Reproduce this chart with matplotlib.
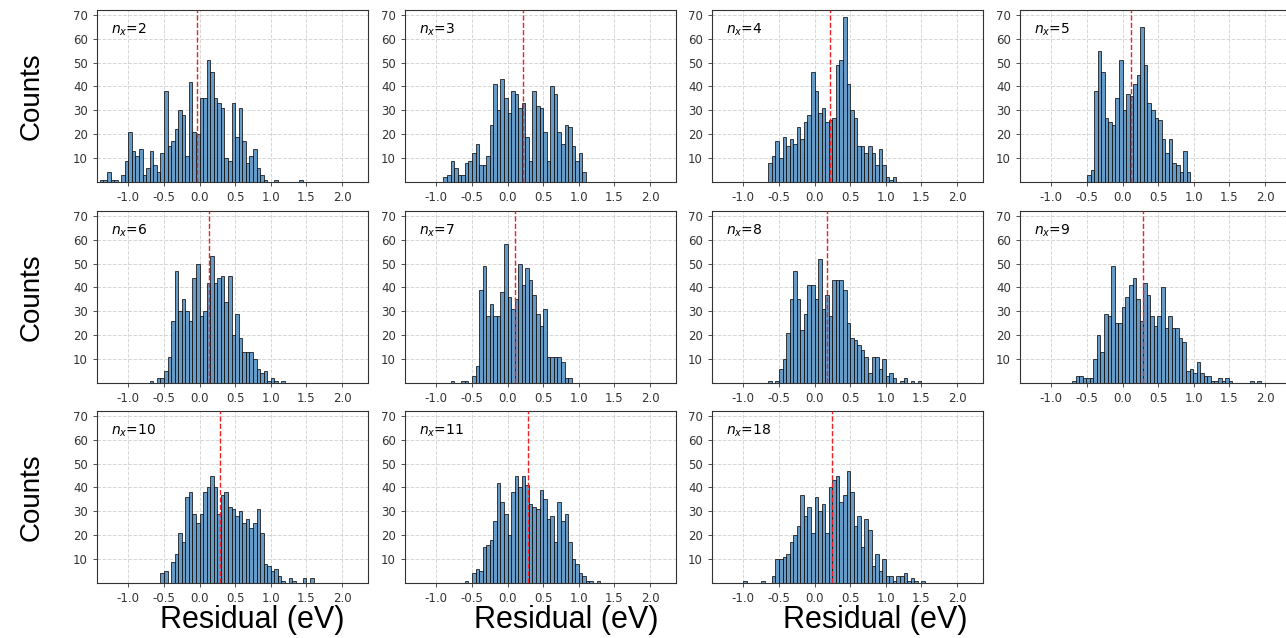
import matplotlib
matplotlib.use("Agg")
import matplotlib.pyplot as plt
import numpy as np

plt.rcParams["axes.unicode_minus"] = False

# histogram counts per panel (bin width 0.05 eV), first bin left edge, mean residual
nx_values = [2, 3, 4, 5, 6, 7, 8, 9, 10, 11, 18]
bin_width = 0.05
bin_start = [-1.40, -0.90, -0.65, -0.50, -0.70, -0.80, -0.65, -0.71, -0.55, -0.60, -1.00]
mean_resid = [-0.03, 0.215, 0.21, 0.115, 0.133, 0.107, 0.168, 0.294, 0.288, 0.285, 0.25]

counts_2 = [1, 1, 4, 1, 1, 0, 3, 9, 21, 13, 11, 14, 3, 6, 13, 7, 4, 12, 38, 15,
            17, 22, 30, 28, 11, 42, 21, 20, 35, 35, 51, 46, 35, 33, 31, 10, 9, 33, 19, 31,
            17, 8, 11, 14, 6, 3, 1, 0, 0, 1, 0, 0, 0, 0, 0, 0, 1]
counts_3 = [2, 3, 9, 6, 3, 3, 8, 9, 12, 16, 7, 7, 11, 24, 41, 30, 43, 35, 29, 38,
            37, 31, 33, 19, 9, 38, 32, 31, 21, 9, 40, 37, 21, 16, 24, 23, 15, 9, 12, 4]
counts_4 = [8, 11, 17, 10, 19, 15, 18, 16, 23, 18, 25, 28, 46, 38, 29, 31, 25, 26, 27, 49,
            51, 69, 41, 30, 27, 15, 15, 12, 15, 12, 7, 14, 7, 2, 1, 2]
counts_5 = [3, 5, 38, 55, 46, 27, 25, 24, 35, 51, 30, 37, 36, 41, 45, 65, 49, 33, 30, 27,
            26, 18, 12, 18, 8, 7, 4, 13, 4]
counts_6 = [1, 0, 2, 2, 5, 11, 26, 47, 30, 35, 30, 26, 44, 50, 28, 30, 42, 53, 42, 44,
            45, 34, 45, 20, 29, 19, 13, 13, 13, 10, 6, 4, 5, 1, 2, 1, 0, 1]
counts_7 = [1, 0, 0, 1, 1, 0, 3, 7, 39, 49, 28, 33, 28, 28, 38, 58, 36, 31, 35, 50,
            41, 48, 43, 37, 29, 24, 31, 11, 11, 11, 11, 9, 2, 2]
counts_8 = [1, 0, 1, 6, 10, 21, 35, 47, 35, 22, 29, 41, 41, 35, 52, 31, 37, 28, 43, 43,
            43, 39, 25, 19, 18, 16, 14, 11, 4, 11, 11, 6, 10, 3, 4, 2, 0, 1, 2, 0,
            1, 0, 1]
counts_9 = [1, 3, 3, 2, 2, 2, 10, 20, 13, 29, 28, 49, 25, 25, 32, 36, 41, 44, 35, 26,
            42, 37, 28, 24, 28, 40, 23, 28, 23, 23, 19, 17, 5, 6, 4, 9, 4, 3, 3, 1,
            1, 2, 1, 2, 1, 0, 0, 0, 0, 0, 1, 0, 1, 0, 0, 0, 0, 0, 0, 0, 1]
counts_10 = [4, 5, 0, 9, 12, 21, 17, 36, 38, 29, 25, 29, 38, 40, 45, 40, 29, 37, 38, 32,
             31, 28, 30, 25, 27, 23, 25, 31, 21, 8, 7, 5, 6, 3, 1, 0, 2, 1, 0, 0,
             2, 0, 2]
counts_11 = [1, 0, 4, 6, 5, 15, 16, 18, 26, 42, 34, 29, 20, 38, 45, 40, 45, 41, 33, 32,
             31, 39, 35, 27, 28, 17, 34, 26, 29, 17, 10, 8, 4, 3, 1, 1, 0, 1]
counts_18 = [1, 0, 0, 0, 0, 1, 0, 0, 3, 10, 10, 11, 12, 17, 20, 24, 37, 28, 32, 21,
             36, 30, 33, 21, 40, 43, 45, 34, 37, 47, 38, 24, 28, 15, 27, 22, 7, 12, 5, 10,
             3, 3, 1, 3, 3, 4, 1, 2, 1, 0, 1]

all_counts = [counts_2, counts_3, counts_4, counts_5, counts_6, counts_7,
              counts_8, counts_9, counts_10, counts_11, counts_18]

xticks = [-1.0, -0.5, 0.0, 0.5, 1.0, 1.5, 2.0]
yticks = [10, 20, 30, 40, 50, 60, 70]

W, H = 1286, 638
fig = plt.figure(figsize=(W / 100, H / 100), dpi=100)

col_left = [97, 405, 712, 1020]
row_top = [10, 211, 411]
ax_w, ax_h = 271, 172

for i, (nx, counts) in enumerate(zip(nx_values, all_counts)):
    r, c = divmod(i, 4)
    left = col_left[c] / W
    bottom = 1 - (row_top[r] + ax_h) / H
    ax = fig.add_axes([left, bottom, ax_w / W, ax_h / H])
    edges = bin_start[i] + bin_width * np.arange(len(counts))
    ax.bar(edges, counts, width=bin_width, align="edge", color="#3f82b8",
           alpha=0.8, edgecolor="#111111", linewidth=0.7, zorder=2)
    ax.axvline(mean_resid[i], color="#ee2222", linestyle="--", linewidth=1.0, zorder=3)
    ax.set_xlim(-1.44, 2.365)
    ax.set_ylim(0, 72)
    ax.set_xticks(xticks)
    ax.set_xticklabels([f"{t:.1f}" for t in xticks])
    ax.set_yticks(yticks)
    ax.tick_params(labelsize=8.5, length=3, width=0.6, colors="#333333")
    ax.grid(True, linestyle="--", color="#cccccc", linewidth=0.7, alpha=0.8, zorder=0)
    ax.set_axisbelow(True)
    for s in ax.spines.values():
        s.set_color("#333333")
        s.set_linewidth(0.8)
    ax.text(0.05, 0.93, f"$n_x$={nx}", transform=ax.transAxes, fontsize=10,
            va="top", ha="left")

for r in range(3):
    yc = 1 - (row_top[r] + ax_h / 2) / H
    fig.text(32 / W, yc, "Counts", rotation=90, fontsize=20, family="Liberation Sans",
             ha="center", va="center")

for xc in [252, 566, 875]:
    fig.text(xc / W, 1 - 620 / H, "Residual (eV)", fontsize=22, family="Liberation Sans",
             ha="center", va="center")

fig.savefig("out.png", dpi=100)
